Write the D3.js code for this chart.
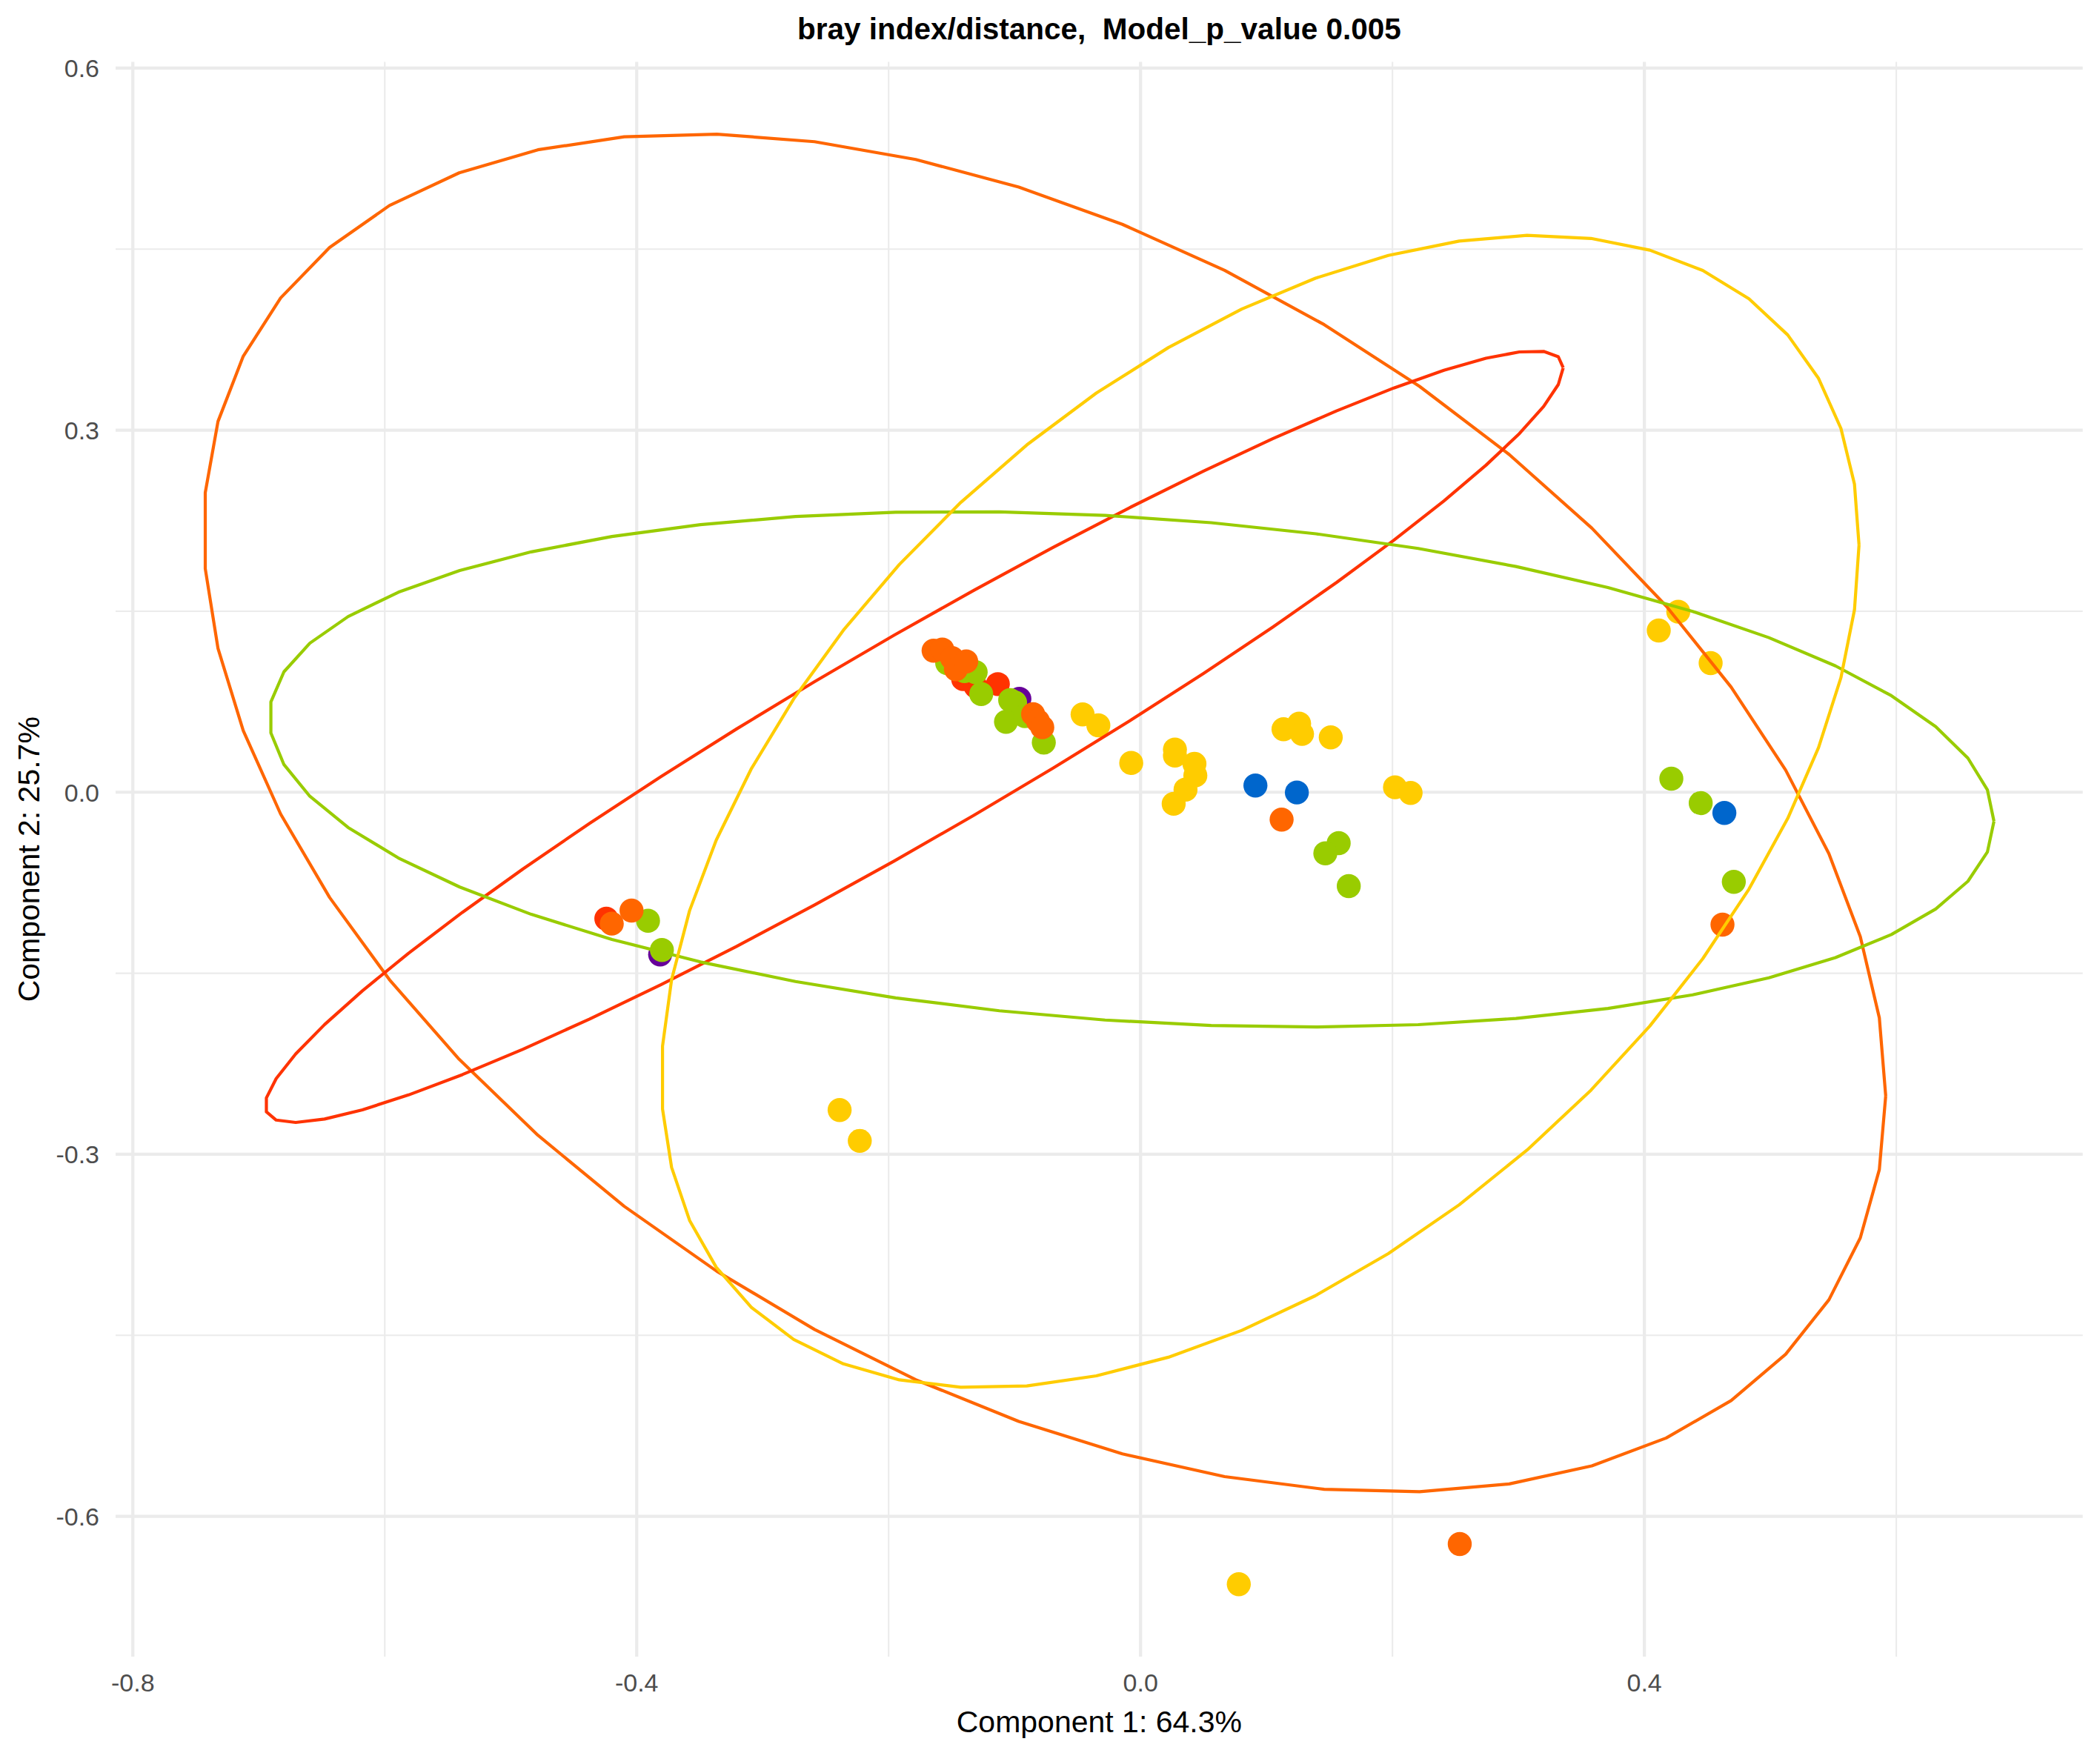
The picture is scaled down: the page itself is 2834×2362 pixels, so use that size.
<!DOCTYPE html>
<html>
<head>
<meta charset="utf-8">
<script src="https://cdn.jsdelivr.net/npm/d3@7"></script>
<style>
  html, body { margin: 0; padding: 0; background: #ffffff; }
  svg text { font-family: "Liberation Sans", Arial, Helvetica, sans-serif; white-space: pre; }
</style>
</head>
<body>
<svg id="chart" width="2834" height="2362"></svg>
<script>
// ---------------- data ----------------
const groupNames  = ["purple", "red", "green", "orange", "yellow", "blue"];
const groupColors = ["#660099", "#FF3300", "#99CC00", "#FF6600", "#FFCC00", "#0066CC"];

// points per group (Component 1, Component 2)
const purpleX = [-0.0962, -0.3814];
const purpleY = [ 0.0774, -0.1345];

const redX = [-0.4241, -0.1408, -0.1309, -0.1133];
const redY = [-0.1048,  0.0937,  0.0876,  0.0896];

const greenX = [-0.3910, -0.3800, -0.1535, -0.1398, -0.1309, -0.1265, -0.1035, -0.0996, -0.1068, -0.0918, -0.0768, 0.1573, 0.1467, 0.1653, 0.4214, 0.4447, 0.4710];
const greenY = [-0.1065, -0.1308,  0.1070,  0.1003,  0.0995,  0.0814,  0.0763,  0.0743,  0.0583,  0.0630,  0.0411, -0.0422, -0.0506, -0.0778, 0.0112, -0.0090, -0.0743];

const orangeX = [-0.4198, -0.4041, -0.1643, -0.1574, -0.1496, -0.1466, -0.1384, -0.0853, -0.0815, -0.0780, 0.1120, 0.4620, 0.2534];
const orangeY = [-0.1089, -0.0981,  0.1173,  0.1183,  0.1111,  0.1019,  0.1084,  0.0647,  0.0590,  0.0538, -0.0227, -0.1097, -0.6230];

const yellowX = [-0.0460, -0.0335, -0.0074, 0.0273, 0.0273, 0.0428, 0.0435, 0.0357, 0.0263, 0.1135, 0.1259, 0.1282, 0.1510, 0.2020, 0.2144, 0.4269, 0.4114, 0.4526, -0.2389, -0.2229, 0.0780];
const yellowY = [ 0.0645,  0.0554,  0.0243, 0.0354, 0.0303, 0.0235, 0.0139, 0.0022, -0.0096, 0.0522, 0.0569, 0.0483, 0.0454, 0.0041, -0.0006, 0.1496, 0.1340, 0.1070, -0.2634, -0.2889, -0.6563];

const blueX = [0.0912, 0.1241, 0.4635];
const blueY = [0.0055, -0.0002, -0.0172];

// 95% ellipses (centre and scaled shape matrix) for the four larger groups
const ellipseGroups = ["orange", "red", "green", "yellow"];
const ellipseColors = ["#FF6600", "#FF3300", "#99CC00", "#FFCC00"];
const ellipseCX  = [-0.0761, -0.1797, -0.0071, 0.0950];
const ellipseCY  = [-0.0172,  0.0460,  0.0190, -0.0160];
const ellipseSxx = [ 0.4458,  0.2655,  0.4687, 0.2260];
const ellipseSyy = [ 0.3167,  0.1022,  0.04562, 0.2280];
const ellipseSxy = [-0.1565,  0.1575, -0.0295, 0.1050];
const ellipseSegments = 51;

// axes
const xMajorTicks = [-0.8, -0.4, 0.0, 0.4];
const xMinorTicks = [-0.6, -0.2, 0.2, 0.6];
const yMajorTicks = [-0.6, -0.3, 0.0, 0.3, 0.6];
const yMinorTicks = [-0.45, -0.15, 0.15, 0.45];
const xDomain = [-0.8137, 0.748];
const yDomain = [-0.7163, 0.6052];

const titleText = "bray index/distance,  Model_p_value 0.005";
const xTitle = "Component 1: 64.3%";
const yTitle = "Component 2: 25.7%";

// ---------------- layout ----------------
const panel = { left: 156, right: 2810.7, top: 83.5, bottom: 2236 };
const svg = d3.select("#chart");

const x = d3.scaleLinear().domain(xDomain).range([panel.left, panel.right]);
const y = d3.scaleLinear().domain(yDomain).range([panel.bottom, panel.top]);

// grid
const grid = svg.append("g");
grid.selectAll("line.xminor").data(xMinorTicks).join("line")
  .attr("x1", d => x(d)).attr("x2", d => x(d))
  .attr("y1", panel.top).attr("y2", panel.bottom)
  .attr("stroke", "#EBEBEB").attr("stroke-width", 2.1);
grid.selectAll("line.yminor").data(yMinorTicks).join("line")
  .attr("y1", d => y(d)).attr("y2", d => y(d))
  .attr("x1", panel.left).attr("x2", panel.right)
  .attr("stroke", "#EBEBEB").attr("stroke-width", 2.1);
grid.selectAll("line.xmajor").data(xMajorTicks).join("line")
  .attr("x1", d => x(d)).attr("x2", d => x(d))
  .attr("y1", panel.top).attr("y2", panel.bottom)
  .attr("stroke", "#EBEBEB").attr("stroke-width", 4.2);
grid.selectAll("line.ymajor").data(yMajorTicks).join("line")
  .attr("y1", d => y(d)).attr("y2", d => y(d))
  .attr("x1", panel.left).attr("x2", panel.right)
  .attr("stroke", "#EBEBEB").attr("stroke-width", 4.2);

// tick labels
const fmt = d => d.toFixed(1);
svg.append("g").selectAll("text").data(xMajorTicks).join("text")
  .attr("x", d => x(d)).attr("y", 2283)
  .attr("text-anchor", "middle")
  .attr("font-size", 34).attr("fill", "#4D4D4D")
  .text(fmt);
svg.append("g").selectAll("text").data(yMajorTicks).join("text")
  .attr("x", 134).attr("y", d => y(d) + 12.5)
  .attr("text-anchor", "end")
  .attr("font-size", 34).attr("fill", "#4D4D4D")
  .text(fmt);

// axis titles and plot title
svg.append("text")
  .attr("x", (panel.left + panel.right) / 2).attr("y", 2338)
  .attr("text-anchor", "middle").attr("font-size", 41).attr("fill", "#000")
  .text(xTitle);
svg.append("text")
  .attr("transform", `translate(53,${(panel.top + panel.bottom) / 2}) rotate(-90)`)
  .attr("text-anchor", "middle").attr("font-size", 41).attr("fill", "#000")
  .text(yTitle);
svg.append("text")
  .attr("x", (panel.left + panel.right) / 2).attr("y", 53)
  .attr("xml:space", "preserve")
  .attr("text-anchor", "middle").attr("font-size", 40.5).attr("font-weight", "bold").attr("fill", "#000")
  .text(titleText);

// points
const groupXs = [purpleX, redX, greenX, orangeX, yellowX, blueX];
const groupYs = [purpleY, redY, greenY, orangeY, yellowY, blueY];
const points = [];
groupNames.forEach((g, i) => {
  groupXs[i].forEach((v, j) => points.push({ g, c: groupColors[i], px: v, py: groupYs[i][j] }));
});
svg.append("g").selectAll("circle").data(points).join("circle")
  .attr("cx", d => x(d.px)).attr("cy", d => y(d.py))
  .attr("r", 16.2).attr("fill", d => d.c);

// ellipses (unit circle mapped through Cholesky factor, as stat_ellipse does)
const line = d3.line().x(d => x(d[0])).y(d => y(d[1]));
const ellipses = ellipseGroups.map((g, i) => {
  const u11 = Math.sqrt(ellipseSxx[i]);
  const u12 = ellipseSxy[i] / u11;
  const u22 = Math.sqrt(ellipseSyy[i] - u12 * u12);
  const pts = d3.range(ellipseSegments + 1).map(k => {
    const t = 2 * Math.PI * k / ellipseSegments;
    const c = Math.cos(t), s = Math.sin(t);
    return [ellipseCX[i] + c * u11, ellipseCY[i] + c * u12 + s * u22];
  });
  return { g, color: ellipseColors[i], pts };
});
svg.append("g").selectAll("path").data(ellipses).join("path")
  .attr("d", d => line(d.pts))
  .attr("fill", "none")
  .attr("stroke", d => d.color)
  .attr("stroke-width", 4.2)
  .attr("stroke-linejoin", "round");
</script>
</body>
</html>
